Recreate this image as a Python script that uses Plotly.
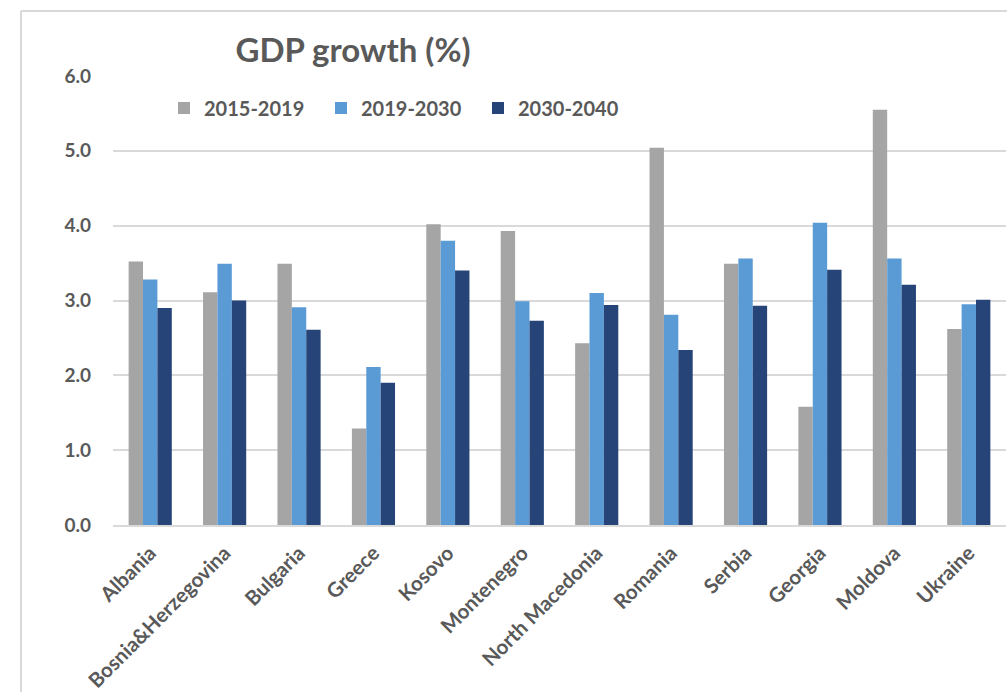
import plotly.graph_objects as go

countries = ["Albania", "Bosnia&Herzegovina", "Bulgaria", "Greece", "Kosovo",
             "Montenegro", "North Macedonia", "Romania", "Serbia", "Georgia",
             "Moldova", "Ukraine"]
g2015_2019 = [3.52, 3.11, 3.49, 1.29, 4.02, 3.93, 2.43, 5.04, 3.49, 1.58, 5.55, 2.62]
g2019_2030 = [3.28, 3.49, 2.91, 2.11, 3.80, 2.99, 3.10, 2.81, 3.56, 4.04, 3.56, 2.95]
g2030_2040 = [2.90, 3.00, 2.61, 1.90, 3.40, 2.73, 2.94, 2.34, 2.93, 3.41, 3.21, 3.01]

series_names = ["2015-2019", "2019-2030", "2030-2040"]
colors = ["#A5A5A5", "#5B9BD5", "#264478"]
FONT = "Lato"
TXT = "#595959"

fig = go.Figure()
for name, vals, c in zip(series_names, [g2015_2019, g2019_2030, g2030_2040], colors):
    fig.add_trace(go.Bar(x=countries, y=vals, name=name, marker_color=c,
                         marker_line_width=0))

W, H = 1007, 692
L, R, T, B = 113, 1, 76, 167
pw, ph = W - L - R, H - T - B

def px2paper_x(px):
    return (px - L) / pw

def px2paper_y(py):
    return (H - B - py) / ph

fig.update_layout(
    width=W, height=H,
    margin=dict(l=L, r=R, t=T, b=B, pad=0, autoexpand=False),
    paper_bgcolor="white", plot_bgcolor="white",
    font=dict(family=FONT, color=TXT, size=16),
    barmode="group", bargap=0.42, bargroupgap=0,
    title=dict(text="<b>GDP growth (%)</b>", x=353 / W, xanchor="center",
               y=1 - 50 / H, yanchor="middle", yref="container",
               font=dict(size=33, color=TXT, family=FONT)),
    legend=dict(orientation="h", x=px2paper_x(164), y=px2paper_y(108),
                xanchor="left", yanchor="middle", bgcolor="rgba(0,0,0,0)",
                font=dict(size=20, color=TXT, family=FONT, weight="bold"),
                itemwidth=30, entrywidth=112, entrywidthmode="pixels",
                traceorder="normal"),
    showlegend=True,
)
fig.update_xaxes(tickangle=-45, showgrid=False, showline=True, automargin=False,
                 linecolor="#D9D9D9", linewidth=2, ticks="",
                 ticklabelstandoff=6,
                 tickfont=dict(size=20.5, color=TXT, family=FONT, weight="bold"))
fig.update_yaxes(range=[0, 6], dtick=1, tickformat=".1f", showgrid=True,
                 automargin=False,
                 gridcolor="#D9D9D9", gridwidth=1.5, zeroline=False,
                 showline=False, ticks="", ticklabelstandoff=21,
                 tickfont=dict(size=19, color=TXT, family=FONT, weight="bold"))

# outer chart frame (partially visible)
fig.add_shape(type="line", xref="paper", yref="paper",
              x0=px2paper_x(21), x1=px2paper_x(1010),
              y0=px2paper_y(11), y1=px2paper_y(11),
              line=dict(color="#D9D9D9", width=2))
fig.add_shape(type="line", xref="paper", yref="paper",
              x0=px2paper_x(21), x1=px2paper_x(21),
              y0=px2paper_y(11), y1=px2paper_y(700),
              line=dict(color="#D9D9D9", width=2))

fig.write_html("out.html")
